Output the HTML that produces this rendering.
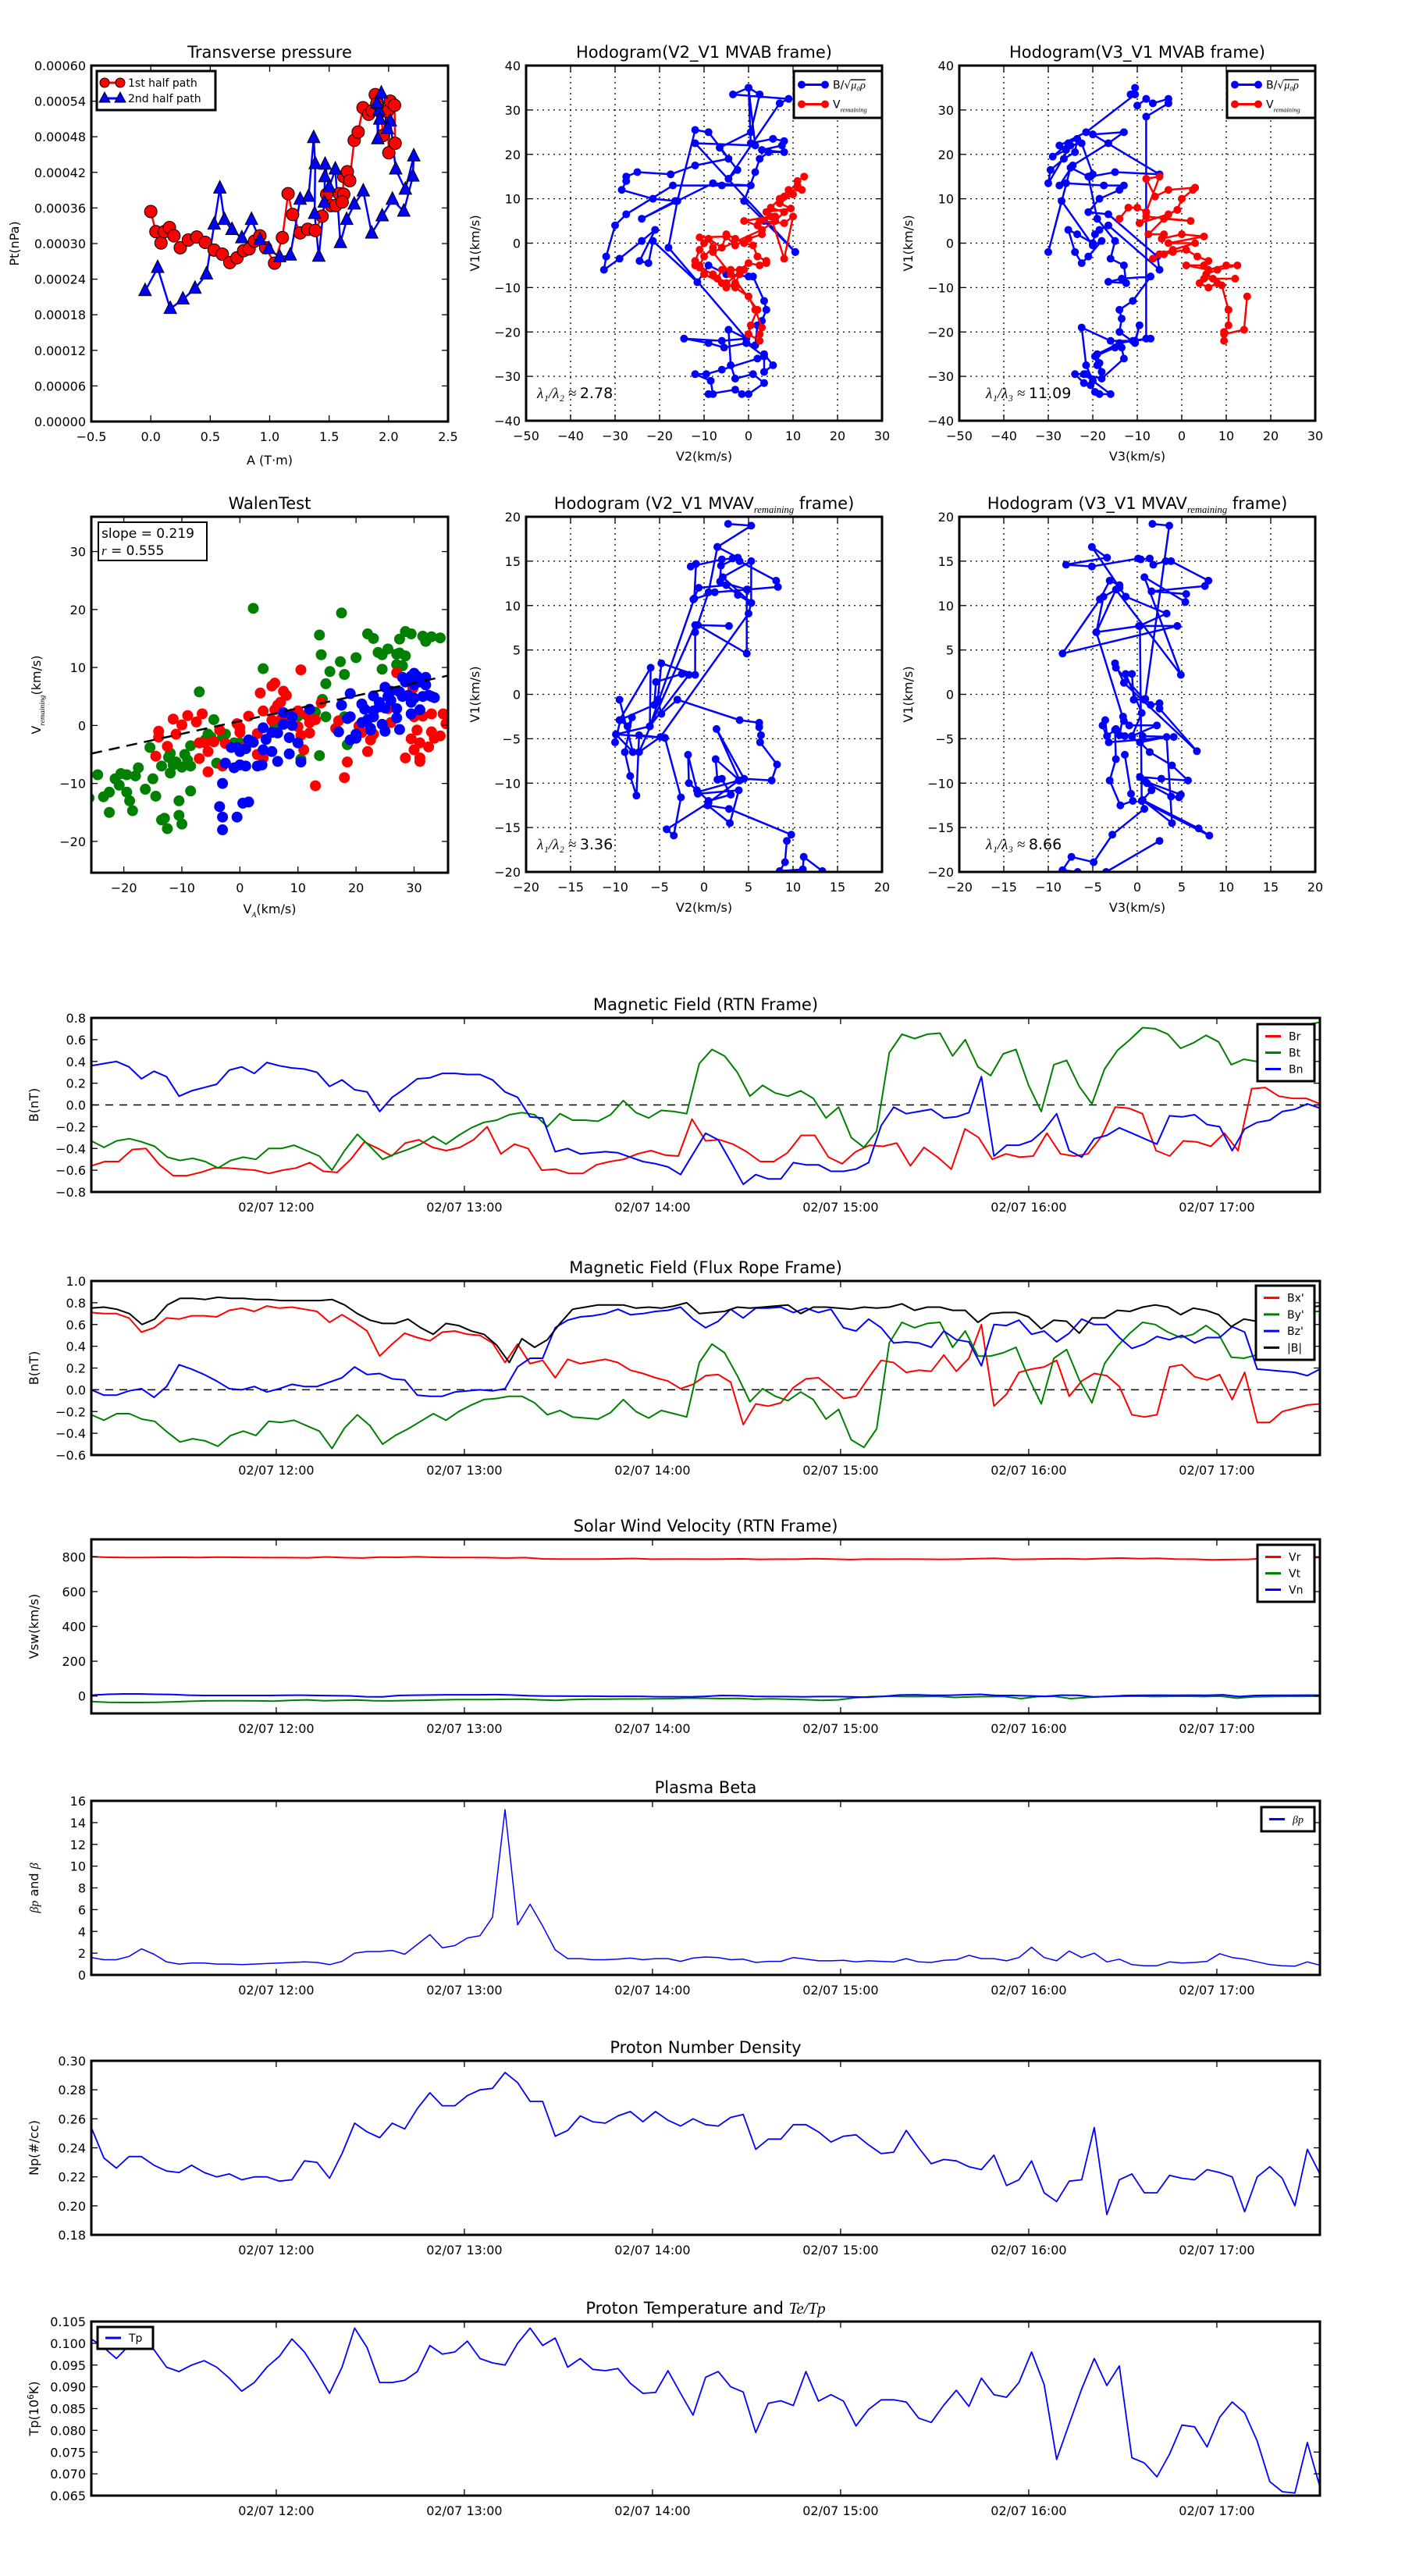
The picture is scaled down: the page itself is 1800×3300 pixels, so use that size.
<!DOCTYPE html>
<html><head><meta charset="utf-8">
<style>
html,body{margin:0;padding:0;background:#fff;}
svg{display:block;font-family:"DejaVu Sans","Liberation Sans",sans-serif;}
</style></head>
<body>
<svg id="fig" xmlns="http://www.w3.org/2000/svg" width="1800" height="3300" viewBox="0 0 1800 3300">
<rect width="1800" height="3300" fill="#fff"/>
</svg>
<script>
// ---------- data ----------
const tpFirstA=[0,0.043,0.086,0.114,0.157,0.195,0.248,0.316,0.387,0.458,0.533,0.602,0.665,0.725,0.781,0.827,0.872,0.918,0.966,1.041,1.107,1.155,1.193,1.256,1.32,1.383,1.441,1.479,1.517,1.555,1.585,1.623,1.61,1.623,1.653,1.673,1.711,1.744,1.785,1.833,1.863,1.888,1.901,1.939,1.951,1.99,2.002,2.015,2.05,2.055];
const tpFirstP=[0.000354,0.00032,0.000301,0.00032,0.000327,0.000313,0.000293,0.000306,0.000311,0.000302,0.000289,0.000282,0.000268,0.000276,0.000288,0.000291,0.000304,0.000313,0.000293,0.000267,0.00031,0.000384,0.000349,0.000318,0.000324,0.000322,0.000346,0.000383,0.000364,0.000364,0.000384,0.000383,0.00037,0.000413,0.000421,0.000406,0.000474,0.000488,0.000529,0.000518,0.000524,0.000551,0.000536,0.000523,0.000482,0.000523,0.000453,0.00054,0.000533,0.000469];
const tpSecondA=[-0.048,0.058,0.164,0.27,0.372,0.468,0.533,0.581,0.619,0.683,0.766,0.847,0.918,0.993,1.084,1.173,1.256,1.327,1.37,1.383,1.378,1.413,1.459,1.464,1.466,1.501,1.552,1.595,1.648,1.711,1.787,1.858,1.946,2.032,2.128,2.204,2.212,2.141,2.06,2.015,1.99,1.939,1.919,1.909,1.901,1.926];
const tpSecondP=[0.00022,0.000259,0.00019,0.000206,0.000224,0.000248,0.000332,0.000393,0.00034,0.000323,0.000309,0.00034,0.000306,0.000291,0.000277,0.00028,0.000374,0.000379,0.000478,0.000434,0.00035,0.000278,0.000369,0.000412,0.000433,0.000395,0.000425,0.000301,0.00034,0.000366,0.000388,0.000317,0.000346,0.000374,0.000354,0.000413,0.000447,0.000391,0.000425,0.000506,0.000493,0.000553,0.000524,0.000476,0.000536,0.000509];

const h1B=[[10.5,-2],[3.5,5],[-1,9.5],[1.5,16],[2.5,19],[4.5,20.5],[8,20.5],[3,21],[7.5,22],[8,23],[5.5,23.5],[0.5,22.5],[0,35],[2.5,33.5],[0.5,25],[-6.5,21.5],[-4.5,19],[-12,17.5],[-17.5,15.5],[-25,16],[-27.5,15],[-27.5,14],[-28.5,12],[-21.5,10],[-16.5,9.5],[-24,5.5],[-8,13.5],[0.5,13],[-6,13],[-17,13],[-27.5,6.5],[-30,4],[-32,-3],[-32.5,-6],[-29,-3.5],[-24,0.5],[-21,3],[-24.5,-4],[-22.5,-4.5],[-21.5,0.5],[-11.5,-8.8],[-9,-5],[-5,-7],[0,-7.5],[1,-7.5],[3.5,-13],[4,-15],[3,-17.5],[2,-18.5],[1.5,-23],[-0.5,-22.5],[-0.5,-21.5],[-4.5,-19.5],[-4,-27.5],[-3,-30.5],[1,-29.5],[3.5,-31.5],[0,-34],[-1.5,-34],[-3,-33],[-9,-34],[-8,-34],[-8.5,-31],[-12,-29.5],[-9.5,-29.5],[-6,-28.5],[2,-26],[3.5,-25],[5.5,-27.5],[3.5,-29],[3.5,-25.5],[-0.5,-22.5],[-5.5,-23.5],[-9,-22.5],[-14.5,-21.5],[-6,-22],[-0.5,-21.5],[-18,-1],[-16,9.5],[-12,25.5],[-9,25],[-2.5,16.5],[-4.5,14.5],[7,31.5],[9,32.5],[-3.5,33.5],[0,35],[1.5,22],[-12,22.5],[10.5,-2]];
const h1R=[[12.5,15],[11,14],[11,12.5],[8,10.5],[10,11],[7,9],[9.5,7.8],[4,7],[6,6],[2.5,5],[8,4.5],[10,6],[8,-3.5],[5,6],[-1,5],[2,4],[3,2],[0,1],[-3,-0.5],[-5,1.5],[-11,1.3],[-10,0],[-11,-1.5],[-12,-4],[-11,-5],[-10,-3],[-8,-1],[-9,1],[-6,-1],[-5,2],[-3,1],[-1,0],[1,-0.5],[2,-3],[4,-4],[4,-4.5],[2.5,-5],[0,-4.5],[-2,-6],[-4,-6],[-6,-6],[-7,-8],[-5,-10],[-3,-9],[-2,-7],[-1,-6],[-5,-9],[-8,-7],[-12,-5],[-11,-5.5],[-10,-7],[-6,-9],[-3,-10],[0,-12],[1.5,-15],[3,-19],[2.5,-20.5],[2.5,-22],[0,-20.5],[0.5,-18.5],[2,-15],[-4,-7],[-8,-2],[3,3],[6,5],[8,7],[5,8],[7,10],[9,12],[11,13],[12,12]];
const h2B=[[-10.5,35],[-11.5,33.5],[-10.5,33.5],[-21.5,25],[-27.5,22],[-26,21],[-29,19.5],[-25.5,22.5],[-23.5,23.5],[-24,20.5],[-26.5,19],[-29.5,16.5],[-30,13.5],[-25,22],[-22.5,22.5],[-20,15.5],[-20.5,15],[-15,16],[-5,15.5],[-20,24.5],[-13,25],[-16.5,22.5],[-24.5,17.5],[-27.5,13],[-26,13.5],[-17.5,13],[-13,13],[-14,12],[-18.5,10],[-21,7],[-16.5,6.5],[-5.5,-3],[-5,-6],[-16.5,4],[-18.5,3],[-19.5,2],[-20,0],[-23.5,2],[-25.5,3],[-24,-2],[-22.5,-4.5],[-21,-3],[-18,0.5],[-20,-0.5],[-27,9.5],[-30,-2],[-25,17],[-21,15],[-19,5.5],[-15,0.5],[-16,-3.5],[-13,-5],[-12.5,-9],[-16.5,-8.7],[-13.5,-8],[-7,-7.5],[-11,-13],[-14,-15],[-13.5,-17],[-14,-20],[-10.5,-22.5],[-9.5,-18.5],[-10.5,-22],[-7,-21.5],[-11,-22],[-16,-22],[-22.5,-19],[-21.5,-27.5],[-20,-31],[-21.5,-29.5],[-24,-29.5],[-22,-31.5],[-20.5,-32],[-19.5,-33.5],[-18.5,-34],[-16,-34],[-22,-29.5],[-18,-30.5],[-13,-26],[-13.5,-23.5],[-15,-23.5],[-19.5,-25.5],[-19,-27.5],[-18,-29],[-18.5,-27],[-19,-25],[-14,-22.5],[-8,-21.5],[-8,28.5],[-3,31.5],[-3,32.5],[-6.5,31.5],[-8,32.5],[-10,31]];
const h2R=[[-14,5.5],[-12,8],[-10,8],[-8,7],[-5,15],[-8,14.5],[-6,10.5],[-3,12],[3,12.5],[2.5,12],[0,10],[-1,7.5],[-3,6.5],[-9.5,4.5],[-8,6],[2,5],[-4,5.5],[-7.5,2],[-4,2],[-4.5,1],[0,2],[5,1.5],[-3,0],[3,0],[-2,-1.5],[-5,-2.5],[-6.5,-3.5],[-4,-2.5],[-2,-2],[1,-1.5],[3.5,-3],[6,-4],[5,-5],[1,-5],[6,-6],[10,-5],[12.5,-5],[8,-6],[5.5,-7],[7,-8],[12,-8],[5,-8],[4,-9],[6,-10],[8,-9],[9,-9.5],[10.5,-15],[10.5,-18.5],[9.5,-20],[9.5,-22],[9.5,-20.5],[14,-19.5],[14.7,-12]];
const h3B=[[2.7,19.2],[5.3,19],[1.5,16.6],[0.5,11.5],[-1,7],[-1,2.2],[-4.8,3.5],[-5.2,-0.6],[-4.8,-2.2],[-3,-0.6],[4,-2.9],[6.2,-3.2],[6.2,-3.7],[6.4,-4.6],[6.3,-5.4],[8.2,-7.9],[7.6,-9.7],[4.5,-9.5],[1.4,-3.9],[4,-9.7],[1.3,-7.3],[1.5,-9.6],[2,-9.5],[3,-11.3],[0.5,-12],[-0.8,-10.8],[-1.7,-10],[-1.8,-6.8],[-0.7,-11.2],[3.9,-10.8],[2.9,-14.5],[0.4,-12.5],[2.8,-12.9],[9.8,-15.8],[9.3,-16.5],[9.1,-18.9],[8.5,-19.9],[11.1,-19.7],[11.2,-18.3],[13.3,-19.9]];
const h3B2=[[-4.4,-4.9],[-2.6,-11.6],[-3.4,-15.9],[-4.2,-15.2],[0.5,-12.2],[3.9,-9.7],[-0.7,-11]];
const h3B3=[[-9.5,-0.6],[-8,-6.5],[-9.9,-4.5],[-10,-5.4],[-9.4,-2.9],[-8.6,-3.6],[-8.1,-2.6],[-8.9,-6.5],[-8.3,-9.2],[-7.6,-11.4],[-7.3,-4.6],[-4.4,-4.9],[-9.9,-4.5],[-6.1,-3.6],[-6,3],[-9.5,-2.9],[-5.6,-1.2],[-5.4,1.4],[-2.5,2.3],[-1.7,2.2],[-6.1,-3.6],[-1.1,10.8],[-0.9,14.7],[-1.5,14.4],[2,15.2],[3.2,15.3],[4,15],[8.1,12.8],[8.3,12.1],[4.9,11.8],[1.2,11.5],[-1.2,10.7],[-0.6,12],[2.5,12.3],[3.8,11.2],[5.3,10.3],[2.1,13.2],[5.3,15],[5.3,10.3],[5,9.1],[-4.9,-4.8],[-7.3,-6.5],[-1,7.8],[2.8,7.7],[-0.7,7.8],[4.8,4.6],[4.8,11.8],[1.8,12.7],[1.9,14.5],[3.8,15.4],[1.5,16.6]];
const h4B=[[1.7,19.2],[3.6,19],[0.9,-0.5],[1.5,-1.2],[2.5,-1],[2.5,-1.6],[6.7,-6.4],[-1.5,1.3],[-2.5,3.5],[-2.4,3],[0.8,-0.6],[-0.4,-0.6],[-0.6,2.3],[-1.3,2.3],[0.5,-2.1],[-0.6,-4.7],[2.2,-3.5],[-0.9,-3.5],[-1.6,-2.5],[-2,-4.6],[-1.4,-4.7],[-2.4,-3.9],[-3.4,-4.7],[-3.6,-2.9],[-3.9,-3.5],[-3.2,-5.4],[4.1,-4.8],[0.6,-4.7],[0.3,-5.4],[1.4,-6.5],[3.9,-8],[5.7,-9.7],[2.7,-9.5],[0.3,-9.3],[0.9,-9.8],[4.9,-11.3],[4.7,-11.6],[3.8,-11.5],[1.1,-10],[1.6,-10.8],[0.5,-12],[0.8,-12.9],[-2.8,-15.8],[-4.9,-18.9],[-7.4,-18.3],[-8.4,-19.8],[-6.7,-20],[-3.5,-20],[2.5,-16.5]];
const h4B2=[[-1.4,-6.8],[-0.7,-11.2],[-0.5,-12],[-1.9,-12.5],[-3.1,-9.7],[-2.4,-7.3],[-2.5,-4],[0.3,-5.4],[3.3,-4.8],[3.9,-14.5],[0.6,-11.9],[6.9,-15.1],[8.1,-15.9],[0.5,-12],[0.3,7.7],[-4.6,7],[-3.8,11],[-2,12],[-2,12.3],[-3.1,12.8],[-4.2,10.7],[-8.4,4.6],[4.5,7.7],[0.2,7.7],[3.3,9.1],[-1.3,11],[-5.1,16.6],[-3.4,15.4],[-8,14.6],[-5.1,14.4],[0.1,15.3],[0.4,15.2],[1.4,15.3],[1.8,14.6],[3.2,15],[3.8,15],[8,12.8],[7.6,12.2],[1.6,11.6],[5.5,11.3],[5.4,10.4],[0.8,13.2],[4.9,2.2],[-2.4,11.8],[-4.6,7],[-1.5,-3]];

const walenGreen=[[-26,-12.5],[-24.5,-8.5],[-23.5,-12.3],[-22.5,-15],[-22.5,-11.5],[-21.5,-9.2],[-20.8,-10.3],[-20.5,-8.3],[-19.5,-8.5],[-19.5,-11.5],[-19,-13],[-18.5,-14.7],[-18,-8.7],[-17.5,-7.3],[-16.3,-11],[-15.5,-3.8],[-15,-9.2],[-14.5,-12.2],[-13.5,-7],[-13.5,-16.3],[-13,-16],[-12.5,-17.8],[-12.3,-5.5],[-12,-4.8],[-12,-8.2],[-11.5,-6.8],[-11,-6.3],[-10.5,-13],[-10.5,-15.5],[-10,-17],[-10,-7.2],[-9.5,-5],[-9,-6],[-8.5,-3.5],[-8.5,-11.3],[-8.5,-7],[-7,5.8],[-6,-2.5],[-5.5,-1.5],[-5,-2],[-4.5,1],[-4,-6.5],[-3,-2],[-2.5,-1.5],[-1,-3],[0,-3],[2.3,20.2],[4,9.8],[6,0],[10.5,-5.8],[10,1.6],[13,2.3],[13.7,15.6],[13.7,-5.2],[14,12.2],[14.2,4.5],[14.8,7.2],[14.8,1.5],[15.5,9.3],[17.5,19.4],[17.3,11],[18,8.8],[18,1.5],[18.5,-3.3],[20,11.7],[22,15.8],[23,15],[23.8,12.6],[24.5,12.2],[24.5,9.7],[25.5,13.2],[27,12.3],[27,10.5],[27.5,14.9],[28,10.3],[28.5,16.2],[28.5,12],[29.5,15.8],[31.5,15.4],[32,14.5],[33,15.3],[34.5,15.1],[27.5,12.5]];
const walenRed=[[-14.5,-5.3],[-14,-1],[-14,-2],[-12.5,-3.6],[-11.5,1.1],[-11,-1.5],[-10,0.1],[-9,1.7],[-7.5,0.6],[-7,-3],[-7,-5.7],[-6.5,2],[-6,-3],[-5.5,-4.5],[-5.5,-8],[-4.5,-2.8],[-3.5,-0.8],[-3,-7],[-2.5,-3.1],[-0.5,0.3],[0,-0.4],[0,-1.2],[1,-3.6],[1.5,1.6],[3,-5],[3,-1.4],[3.5,5.6],[4,2.5],[4,-5.6],[5.5,6.8],[5.5,0.9],[6,7.3],[6,2.7],[6.5,3.5],[7,4],[7,1],[7.5,5.9],[8,5.2],[8,1.5],[9,2],[10,-0.2],[10,2.5],[10.5,9.6],[10.5,-1.7],[11,-4.2],[11.5,1.8],[12,-1.3],[12,0.5],[13,1],[13,-10.4],[14,3.9],[16.5,-0.5],[17,0.8],[18,-9],[18.5,-6.3],[20.5,-0.1],[21,-1.2],[22,-4.5],[22.5,-2.5],[22.5,-0.7],[23,-1.5],[25.5,2.9],[26,0.5],[27,9.1],[28.5,-5.6],[29.5,-2.3],[29.8,6.4],[30,-4.2],[30,1.5],[30.5,-0.8],[31,-3],[31,-5.6],[31,-6.2],[31.5,1.6],[32.5,-3.7],[33,2],[33,-1.1],[33.5,-2.2],[34.5,-1.8],[35,2],[35.5,0.3]];
const walenBlue=[[-3.5,-14],[-3,-10],[-3,-15.8],[-3,-18],[-2.5,-6.5],[-1.5,-3.8],[-1,-7.3],[-0.5,-3.8],[-0.5,-15.8],[0,-6.8],[0,-4.5],[0.5,-13.4],[1,-4],[1,-7],[1.5,-2.5],[1.5,-13.2],[2.3,-2.9],[3,-7],[3.8,-6.8],[4,-4.2],[4,-0.4],[4.5,-2.4],[5.5,-4.5],[5.5,-1.2],[6.5,-1.3],[6.5,-6.2],[7.5,2.2],[7.5,0.2],[8.5,-4.9],[8.5,-2.1],[9,0],[9,1.5],[10,-3],[10.5,-6.3],[12,2.8],[17,-1.1],[17.5,3.5],[18.5,1.2],[19,-2.5],[19,5.5],[19,1.5],[20,-2.2],[20,-1.5],[21,0.5],[21,3.7],[21.5,2.8],[22,1],[22.5,-0.8],[22.5,-0.5],[23,2.5],[23,5.1],[23,1.5],[24,4],[24,3.2],[24.5,0.2],[25,3],[25,6.6],[25,-1],[25.5,5],[26,4.3],[26,5.9],[27,2.9],[27,1.3],[27.5,-0.7],[27.5,5.8],[28,8.3],[28,5],[28.5,7.5],[29,8],[29,5.2],[29.5,4],[29.5,2],[30,9],[30,7],[30,4.7],[31,8],[31,2.7],[31.5,5],[32,8.3],[32,7],[32.5,5.2],[33,5],[33.5,4.8],[29.5,8.5],[30.5,8.5],[31,7.5]];
const walenSlope=0.219, walenIntercept=0.75;

const tStart=11.017, tEnd=17.548; // hours
const hourTicks=[12,13,14,15,16,17];
const hourLabels=["02/07 12:00","02/07 13:00","02/07 14:00","02/07 15:00","02/07 16:00","02/07 17:00"];

const Br=[-0.56,-0.52,-0.52,-0.41,-0.40,-0.55,-0.65,-0.65,-0.62,-0.58,-0.58,-0.59,-0.60,-0.63,-0.60,-0.58,-0.53,-0.61,-0.62,-0.50,-0.34,-0.40,-0.47,-0.35,-0.32,-0.39,-0.42,-0.39,-0.32,-0.20,-0.45,-0.36,-0.40,-0.60,-0.59,-0.63,-0.63,-0.55,-0.52,-0.50,-0.45,-0.42,-0.46,-0.47,-0.13,-0.33,-0.32,-0.36,-0.43,-0.52,-0.52,-0.44,-0.28,-0.28,-0.48,-0.54,-0.43,-0.37,-0.38,-0.35,-0.56,-0.39,-0.48,-0.59,-0.22,-0.30,-0.50,-0.45,-0.48,-0.47,-0.26,-0.45,-0.47,-0.45,-0.29,-0.02,-0.03,-0.08,-0.42,-0.47,-0.33,-0.34,-0.38,-0.26,-0.42,0.15,0.16,0.08,0.06,0.06,0.01];
const Bt=[-0.33,-0.39,-0.33,-0.31,-0.34,-0.38,-0.48,-0.51,-0.49,-0.52,-0.58,-0.51,-0.48,-0.50,-0.40,-0.40,-0.37,-0.42,-0.47,-0.60,-0.42,-0.27,-0.38,-0.50,-0.45,-0.41,-0.36,-0.29,-0.36,-0.28,-0.21,-0.16,-0.14,-0.09,-0.07,-0.09,-0.20,-0.08,-0.14,-0.14,-0.15,-0.09,0.04,-0.07,-0.12,-0.05,-0.06,-0.08,0.38,0.51,0.45,0.30,0.08,0.18,0.11,0.08,0.13,0.06,-0.12,-0.02,-0.30,-0.39,-0.24,0.48,0.65,0.61,0.65,0.66,0.45,0.60,0.35,0.27,0.47,0.51,0.18,-0.06,0.37,0.41,0.17,0.01,0.33,0.50,0.60,0.71,0.70,0.65,0.52,0.57,0.64,0.58,0.37,0.42,0.40,0.68,0.70,0.72,0.74,0.76];
const Bn=[0.36,0.38,0.40,0.35,0.24,0.31,0.26,0.08,0.13,0.16,0.19,0.32,0.35,0.29,0.39,0.36,0.34,0.33,0.30,0.17,0.23,0.14,0.12,-0.06,0.07,0.15,0.24,0.25,0.29,0.29,0.28,0.28,0.23,0.12,0.07,-0.11,-0.12,-0.43,-0.40,-0.45,-0.44,-0.43,-0.44,-0.48,-0.52,-0.54,-0.57,-0.64,-0.45,-0.26,-0.32,-0.52,-0.73,-0.64,-0.68,-0.68,-0.53,-0.55,-0.55,-0.61,-0.61,-0.59,-0.53,-0.19,-0.02,-0.08,-0.06,-0.04,-0.12,-0.11,-0.07,0.26,-0.47,-0.37,-0.37,-0.33,-0.23,-0.08,-0.42,-0.48,-0.31,-0.28,-0.21,-0.26,-0.31,-0.36,-0.10,-0.11,-0.09,-0.18,-0.20,-0.42,-0.22,-0.16,-0.14,-0.06,-0.04,0.01,-0.03];
const Bx=[0.71,0.70,0.70,0.66,0.53,0.57,0.66,0.65,0.68,0.68,0.67,0.73,0.75,0.72,0.77,0.75,0.76,0.74,0.72,0.62,0.69,0.62,0.54,0.31,0.42,0.52,0.48,0.45,0.53,0.54,0.51,0.50,0.43,0.25,0.42,0.24,0.27,0.11,0.28,0.24,0.26,0.28,0.25,0.18,0.15,0.11,0.08,0.01,0.05,0.13,0.14,0.07,-0.32,-0.13,-0.15,-0.12,0.02,0.10,0.11,0.02,-0.08,-0.06,0.11,0.27,0.25,0.16,0.18,0.17,0.32,0.17,0.29,0.60,-0.15,-0.04,0.16,0.19,0.21,0.27,-0.06,0.08,0.15,0.13,0.03,-0.23,-0.25,-0.23,0.21,0.23,0.12,0.09,0.14,-0.09,0.16,-0.30,-0.30,-0.20,-0.17,-0.14,-0.13];
const By=[-0.23,-0.28,-0.22,-0.22,-0.27,-0.29,-0.39,-0.48,-0.45,-0.47,-0.52,-0.42,-0.38,-0.42,-0.29,-0.30,-0.28,-0.33,-0.38,-0.54,-0.35,-0.23,-0.33,-0.50,-0.42,-0.36,-0.29,-0.22,-0.28,-0.20,-0.14,-0.09,-0.08,-0.06,-0.06,-0.12,-0.23,-0.19,-0.25,-0.26,-0.27,-0.21,-0.09,-0.20,-0.26,-0.19,-0.22,-0.25,0.25,0.42,0.34,0.13,-0.11,0.01,-0.06,-0.10,-0.02,-0.09,-0.27,-0.18,-0.46,-0.53,-0.36,0.43,0.62,0.57,0.61,0.62,0.39,0.54,0.31,0.31,0.34,0.39,0.11,-0.13,0.29,0.37,0.09,-0.12,0.24,0.40,0.52,0.62,0.60,0.53,0.48,0.51,0.59,0.51,0.30,0.29,0.32,0.60,0.66,0.70,0.72,0.72];
const Bz=[0.00,-0.05,-0.05,-0.01,0.01,-0.07,0.03,0.23,0.19,0.14,0.08,0.01,0.00,0.03,-0.02,0.01,0.05,0.03,0.03,0.07,0.11,0.21,0.14,0.15,0.10,0.09,-0.05,-0.06,-0.06,-0.02,-0.01,0.00,-0.01,0.01,0.21,0.29,0.29,0.57,0.64,0.67,0.68,0.70,0.74,0.69,0.70,0.72,0.73,0.76,0.65,0.57,0.63,0.74,0.66,0.75,0.75,0.76,0.71,0.75,0.71,0.74,0.57,0.54,0.65,0.57,0.43,0.44,0.43,0.39,0.54,0.46,0.44,0.22,0.60,0.59,0.64,0.51,0.54,0.44,0.52,0.65,0.60,0.60,0.48,0.38,0.42,0.49,0.46,0.50,0.43,0.48,0.48,0.58,0.53,0.19,0.18,0.17,0.16,0.13,0.19];
const Bmag=[0.75,0.76,0.74,0.70,0.60,0.65,0.78,0.84,0.84,0.83,0.85,0.84,0.84,0.83,0.83,0.82,0.82,0.82,0.82,0.83,0.78,0.70,0.64,0.61,0.61,0.65,0.57,0.51,0.61,0.59,0.54,0.51,0.41,0.25,0.47,0.39,0.46,0.61,0.74,0.76,0.78,0.78,0.78,0.75,0.76,0.75,0.77,0.80,0.70,0.71,0.72,0.76,0.75,0.76,0.77,0.78,0.70,0.76,0.76,0.75,0.74,0.76,0.75,0.76,0.79,0.73,0.76,0.76,0.73,0.73,0.62,0.70,0.71,0.71,0.67,0.56,0.64,0.63,0.52,0.66,0.66,0.73,0.72,0.76,0.78,0.76,0.69,0.75,0.73,0.69,0.58,0.65,0.63,0.70,0.72,0.74,0.76,0.77];
const Vr=[800,797,796,796,797,797,796,798,797,796,795,795,794,799,795,793,798,797,800,797,796,796,795,793,795,788,787,787,787,788,790,786,787,787,786,787,788,785,786,786,789,787,784,787,786,787,786,785,786,789,791,785,786,788,789,786,790,793,789,791,787,786,782,784,785,791,784,795,795];
const Vt=[-32,-36,-37,-37,-36,-33,-30,-28,-27,-27,-28,-29,-25,-22,-27,-25,-23,-27,-28,-26,-24,-22,-20,-20,-20,-19,-18,-22,-25,-20,-18,-18,-17,-17,-16,-15,-12,-13,-15,-14,-18,-16,-19,-21,-25,-22,-10,-3,-2,-3,-3,-2,-8,-5,-3,-3,-15,-3,-2,-15,-8,-3,-2,-1,-3,-2,-1,-3,-1,-12,-5,-3,-2,-2,-1];
const Vn=[5,10,12,12,10,9,5,3,3,3,3,3,4,5,3,2,1,-4,-5,3,5,6,7,7,7,8,6,2,0,0,-1,-1,-2,-2,-2,-4,-4,-5,-2,3,2,-2,-3,-3,-5,-3,-3,-5,-7,-2,6,7,4,4,7,10,3,3,1,-2,5,4,-5,-2,3,4,5,4,5,4,7,-3,3,4,4,5,5];
const beta=[1.6,1.4,1.4,1.7,2.4,1.9,1.2,1.0,1.1,1.1,1.0,1.0,0.95,1.0,1.05,1.1,1.15,1.2,1.15,0.95,1.25,2.0,2.15,2.15,2.25,1.9,2.8,3.7,2.5,2.7,3.4,3.6,5.3,15.2,4.6,6.5,4.5,2.3,1.5,1.5,1.4,1.4,1.45,1.55,1.4,1.5,1.5,1.25,1.55,1.65,1.6,1.4,1.45,1.15,1.25,1.25,1.6,1.45,1.3,1.3,1.35,1.2,1.3,1.25,1.2,1.5,1.2,1.15,1.35,1.4,1.8,1.5,1.5,1.3,1.6,2.55,1.6,1.3,2.2,1.6,2.0,1.2,1.45,0.95,0.85,0.85,1.2,1.1,1.15,1.25,1.95,1.6,1.45,1.2,0.95,0.85,0.8,1.2,0.9];
const Np=[0.254,0.233,0.226,0.234,0.234,0.228,0.224,0.223,0.228,0.223,0.220,0.222,0.218,0.220,0.220,0.217,0.218,0.231,0.230,0.219,0.236,0.257,0.251,0.247,0.257,0.253,0.267,0.278,0.269,0.269,0.276,0.280,0.281,0.292,0.285,0.272,0.272,0.248,0.252,0.262,0.258,0.257,0.262,0.265,0.258,0.265,0.259,0.255,0.260,0.256,0.255,0.261,0.263,0.239,0.246,0.246,0.256,0.256,0.251,0.244,0.248,0.249,0.242,0.236,0.237,0.252,0.240,0.229,0.232,0.231,0.227,0.225,0.235,0.214,0.218,0.231,0.209,0.203,0.217,0.218,0.254,0.194,0.218,0.222,0.209,0.209,0.221,0.219,0.218,0.225,0.223,0.220,0.196,0.220,0.227,0.219,0.200,0.239,0.222];
const Tp=[0.101,0.099,0.0965,0.0995,0.1,0.0985,0.0945,0.0935,0.095,0.096,0.0945,0.092,0.089,0.091,0.0945,0.097,0.101,0.098,0.0935,0.0885,0.0945,0.1035,0.099,0.091,0.091,0.0915,0.0935,0.0995,0.0975,0.098,0.1005,0.0965,0.0955,0.095,0.1,0.1035,0.0995,0.1012,0.0945,0.0965,0.094,0.0937,0.0942,0.0908,0.0885,0.0887,0.0937,0.0885,0.0835,0.0922,0.0935,0.09,0.0888,0.0795,0.0862,0.0868,0.0857,0.0935,0.0867,0.0882,0.0867,0.081,0.0848,0.087,0.087,0.0865,0.0828,0.0818,0.0858,0.0892,0.0855,0.092,0.0882,0.0876,0.091,0.098,0.0905,0.0733,0.0815,0.0895,0.0965,0.0903,0.0948,0.0737,0.0725,0.0693,0.0745,0.0812,0.0808,0.0762,0.083,0.0865,0.084,0.0775,0.0682,0.0659,0.0656,0.0772,0.067];

// ---------- helpers ----------
const NS="http://www.w3.org/2000/svg";
const fig=document.getElementById('fig');
function mk(tag,attrs,parent){const e=document.createElementNS(NS,tag);for(const k in attrs)e.setAttribute(k,attrs[k]);(parent||fig).appendChild(e);return e;}
function fmt(v,d){const s=Math.abs(v).toFixed(d);return (v<0?"\u2212":"")+s;}
function makeAxes(name,x0,y0,w,h,xmin,xmax,ymin,ymax){
  const g=mk('g',{});
  
  
  const sx=v=>x0+(v-xmin)/(xmax-xmin)*w;
  const sy=v=>y0+h-(v-ymin)/(ymax-ymin)*h;
  const cp='clip-'+name;
  const c=mk('clipPath',{id:cp},g);mk('rect',{x:x0,y:y0,width:w,height:h},c);
  const plot=mk('g',{'clip-path':'url(#'+cp+')'},g);
  return {g,plot,sx,sy,x0,y0,w,h};
}
function frame(ax){
  const r=mk('rect',{x:ax.x0,y:ax.y0,width:ax.w,height:ax.h,fill:'none',stroke:'#000','stroke-width':3},ax.g);
  
  
}
function xTicks(ax,vals,labels,grid,name){
  vals.forEach((v,i)=>{
    const x=ax.sx(v);
    if(grid) mk('line',{x1:x,x2:x,y1:ax.y0,y2:ax.y0+ax.h,stroke:'#000','stroke-width':1.3,'stroke-dasharray':'2,5'},ax.plot);
    mk('line',{x1:x,x2:x,y1:ax.y0+ax.h,y2:ax.y0+ax.h-8,stroke:'#000','stroke-width':1.3},ax.g);
    mk('line',{x1:x,x2:x,y1:ax.y0,y2:ax.y0+8,stroke:'#000','stroke-width':1.3},ax.g);
    const t=mk('text',{x:x,y:ax.y0+ax.h+25,'font-size':16,'text-anchor':'middle'},ax.g);
    t.textContent=labels[i];
    
    
  });
}
function yTicks(ax,vals,labels,grid,name){
  vals.forEach((v,i)=>{
    const y=ax.sy(v);
    if(grid) mk('line',{x1:ax.x0,x2:ax.x0+ax.w,y1:y,y2:y,stroke:'#000','stroke-width':1.3,'stroke-dasharray':'2,5'},ax.plot);
    mk('line',{x1:ax.x0,x2:ax.x0+8,y1:y,y2:y,stroke:'#000','stroke-width':1.3},ax.g);
    mk('line',{x1:ax.x0+ax.w,x2:ax.x0+ax.w-8,y1:y,y2:y,stroke:'#000','stroke-width':1.3},ax.g);
    const t=mk('text',{x:ax.x0-7,y:y+6,'font-size':16,'text-anchor':'end'},ax.g);
    t.textContent=labels[i];
    
    
  });
}
function title(ax,txt,name,dy){
  const t=mk('text',{x:ax.x0+ax.w/2,y:ax.y0-(dy||10),'font-size':21,'text-anchor':'middle'},ax.g);
  if(typeof txt==='string') t.textContent=txt; else txt(t);
  
  
  return t;
}
function ylabel(ax,txt,x,name,size){
  const cy=ax.y0+ax.h/2;
  const t=mk('text',{x:x,y:cy,'font-size':size||16,'text-anchor':'middle',transform:'rotate(-90 '+x+' '+cy+')'},ax.g);
  if(typeof txt==='string') t.textContent=txt; else txt(t);
  
  
}
function xlabel(ax,txt,y,name){
  const t=mk('text',{x:ax.x0+ax.w/2,y:y,'font-size':16,'text-anchor':'middle'},ax.g);
  if(typeof txt==='string') t.textContent=txt; else txt(t);
  
  
}
function sub(t,main,s,rest){
  t.appendChild(document.createTextNode(main));
  const ts=mk('tspan',{'font-size':'60%','font-style':'italic','font-family':'"Liberation Serif",serif',dy:5},t);ts.textContent=s;
  if(rest){const r=mk('tspan',{dy:-5},t);r.textContent=rest;}
}
function polyline(ax,xs,ys,color,name,lw){
  const pts=xs.map((x,i)=>ax.sx(x).toFixed(1)+','+ax.sy(ys[i]).toFixed(1)).join(' ');
  const p=mk('polyline',{points:pts,fill:'none',stroke:color,'stroke-width':lw||2,'stroke-linejoin':'round'},ax.plot);
  
  
  return p;
}
function legendBox(ax,x,y,w,h,entries,name,marker){
  const g=mk('g',{},ax.g);
  
  
  mk('rect',{x:x,y:y,width:w,height:h,fill:'#fff',stroke:'#000','stroke-width':3},g);
  const step=(h-10)/entries.length;
  entries.forEach((e,i)=>{
    const cy=y+5+step*(i+0.5);
    const eg=mk('g',{},g);
    
    
    const lx=x+10, llen=marker?30:20;
    mk('line',{x1:lx,x2:lx+llen,y1:cy,y2:cy,stroke:e.color,'stroke-width':3},eg);
    if(marker==='circle'){mk('circle',{cx:lx,cy:cy,r:5,fill:e.color},eg);mk('circle',{cx:lx+llen,cy:cy,r:5,fill:e.color},eg);}
    const t=mk('text',{x:lx+llen+10,y:cy+5,'font-size':e.size||14},eg);
    if(typeof e.label==='string') t.textContent=e.label; else e.label(t);
  });
}

// ---------- Transverse pressure ----------
(function(){
  const ax=makeAxes('transverse-pressure-chart',117,84,457,456,-0.5,2.5,0,0.0006);
  const xt=[-0.5,0,0.5,1,1.5,2,2.5];
  xTicks(ax,xt,xt.map(v=>fmt(v,1)),false,'tp');
  const yt=[0,0.00006,0.00012,0.00018,0.00024,0.0003,0.00036,0.00042,0.00048,0.00054,0.0006];
  yTicks(ax,yt,yt.map(v=>v.toFixed(5)),false,'tp');
  polyline(ax,tpFirstA,tpFirstP,'#f00','first-half-path-line',2.5);
  polyline(ax,tpSecondA,tpSecondP,'#00f','second-half-path-line',2.5);
  tpFirstA.forEach((a,i)=>{
    const c=mk('circle',{cx:ax.sx(a),cy:ax.sy(tpFirstP[i]),r:8,fill:'#f00',stroke:'#000','stroke-width':1},ax.plot);
    
    
  });
  tpSecondA.forEach((a,i)=>{
    const x=ax.sx(a),y=ax.sy(tpSecondP[i]);
    const p=mk('polygon',{points:x+','+(y-10)+' '+(x-8)+','+(y+6)+' '+(x+8)+','+(y+6),fill:'#00f',stroke:'#000','stroke-width':1},ax.plot);
    
    
  });
  frame(ax);
  title(ax,'Transverse pressure','tp',10);
  ylabel(ax,'Pt(nPa)',24,'tp');
  xlabel(ax,'A (T\u00b7m)',595,'tp');
  legendBox(ax,124,91,152,50,[{color:'#f00',label:'1st half path'},{color:'#00f',label:'2nd half path'}],'tp-legend',null);
  [[0,'#f00','c'],[1,'#00f','t']].forEach(([i,col,k])=>{
    const cy=91+5+20*(i+0.5);
    [134,154].forEach(px=>{
      if(k==='c') mk('circle',{cx:px,cy:cy,r:6,fill:col,stroke:'#000'},ax.g);
      else mk('polygon',{points:px+','+(cy-8)+' '+(px-7)+','+(cy+5)+' '+(px+7)+','+(cy+5),fill:col,stroke:'#000'},ax.g);
    });
  });
})();

// ---------- Hodograms ----------
function hodogram(name,x0,y0,lim,ticks,chains,titleFn,xl,ratioTxt,legend,xlY,rdx){
  const ax=makeAxes(name,x0,y0,456,455,lim[0],lim[1],lim[2],lim[3]);
  xTicks(ax,ticks[0],ticks[0].map(v=>fmt(v,0)),true,name);
  yTicks(ax,ticks[1],ticks[1].map(v=>fmt(v,0)),true,name);
  chains.forEach(ch=>{
    polyline(ax,ch.pts.map(p=>p[0]),ch.pts.map(p=>p[1]),ch.color,ch.name+'-line',2.5);
    ch.pts.forEach(p=>{
      const c=mk('circle',{cx:ax.sx(p[0]),cy:ax.sy(p[1]),r:5,fill:ch.color},ax.plot);
      
      
    });
  });
  frame(ax);
  title(ax,titleFn,name,10);
  ylabel(ax,'V1(km/s)',x0-60,name);
  xlabel(ax,xl,xlY,name);
  const r=mk('text',{x:x0+(rdx||14),y:y0+426,'font-size':19},ax.g);
  ratioTxt(r);
  
  
  if(legend) legendBox(ax,x0+ax.w-113,y0+7,113,60,[
    {color:'#00f',label:t=>{t.appendChild(document.createTextNode('B/\u221a'));const s=mk('tspan',{'font-style':'italic','font-family':'"Liberation Serif",serif','text-decoration':'overline'},t);s.textContent='\u03bc\u2080\u03c1';}},
    {color:'#f00',label:t=>sub(t,'V','remaining')}
  ],name+'-legend','circle');
  return ax;
}
function ratio(a,b,v){return t=>{const s=mk('tspan',{'font-style':'italic','font-family':'"Liberation Serif",serif'},t);s.textContent='\u03bb'+a+'/\u03bb'+b+' \u2248 ';const n=mk('tspan',{},t);n.textContent=v;};}
const tk80=[-50,-40,-30,-20,-10,0,10,20,30], tk80y=[-40,-30,-20,-10,0,10,20,30,40];
const tk20=[-20,-15,-10,-5,0,5,10,15,20];
hodogram('hodogram-v2-v1-mvab',674,84,[-50,30,-40,40],[tk80,tk80y],[{pts:h1B,color:'#00f',name:'b-alfven'},{pts:h1R,color:'#f00',name:'v-remaining'}],'Hodogram(V2_V1 MVAB frame)','V2(km/s)',ratio('\u2081','\u2082','2.78'),true,590,14);
hodogram('hodogram-v3-v1-mvab',1229,84,[-50,30,-40,40],[tk80,tk80y],[{pts:h2B,color:'#00f',name:'b-alfven'},{pts:h2R,color:'#f00',name:'v-remaining'}],'Hodogram(V3_V1 MVAB frame)','V3(km/s)',ratio('\u2081','\u2083','11.09'),true,590,34);
hodogram('hodogram-v2-v1-mvav',674,662,[-20,20,-20,20],[tk20,tk20],[{pts:h3B,color:'#00f',name:'b-alfven'},{pts:h3B2,color:'#00f',name:'b-alfven'},{pts:h3B3,color:'#00f',name:'b-alfven'}],t=>sub(t,'Hodogram (V2_V1 MVAV','remaining',' frame)'),'V2(km/s)',ratio('\u2081','\u2082','3.36'),false,1168,14);
hodogram('hodogram-v3-v1-mvav',1229,662,[-20,20,-20,20],[tk20,tk20],[{pts:h4B,color:'#00f',name:'b-alfven'},{pts:h4B2,color:'#00f',name:'b-alfven'}],t=>sub(t,'Hodogram (V3_V1 MVAV','remaining',' frame)'),'V3(km/s)',ratio('\u2081','\u2083','8.66'),false,1168,34);

// ---------- Walen test ----------
(function(){
  const ax=makeAxes('walen-test-chart',117,662,457,456,-25.6,35.85,-25.4,36);
  const xt=[-20,-10,0,10,20,30];
  xTicks(ax,xt,xt.map(v=>fmt(v,0)),false,'walen');
  const yt=[-20,-10,0,10,20,30];
  yTicks(ax,yt,yt.map(v=>fmt(v,0)),false,'walen');
  [[walenGreen,'#008000','walen-point-green'],[walenRed,'#f00','walen-point-red'],[walenBlue,'#00f','walen-point-blue']].forEach(([arr,col,nm])=>{
    arr.forEach(p=>{
      const c=mk('circle',{cx:ax.sx(p[0]),cy:ax.sy(p[1]),r:7,fill:col},ax.plot);
      
      
    });
  });
  const fx=[-25.6,35.85];
  const fl=polyline(ax,fx,fx.map(x=>walenSlope*x+walenIntercept),'#000','walen-fit-line',2.5);
  fl.setAttribute('stroke-dasharray','14,9');
  frame(ax);
  title(ax,'WalenTest','walen',10);
  ylabel(ax,t=>sub(t,'V','remaining','(km/s)'),52,'walen');
  xlabel(ax,t=>sub(t,'V','A','(km/s)'),1170,'walen');
  const g=mk('g',{},ax.g);
  
  
  mk('rect',{x:126,y:669,width:139,height:49,fill:'#fff',stroke:'#000','stroke-width':2},g);
  const t1=mk('text',{x:130,y:689,'font-size':17},g);t1.textContent='slope = '+walenSlope.toFixed(3);
  const t2=mk('text',{x:130,y:711,'font-size':17},g);
  const ri=mk('tspan',{'font-style':'italic','font-family':'"Liberation Serif",serif'},t2);ri.textContent='r';
  const rv=mk('tspan',{},t2);rv.textContent=' = 0.555';
})();

// ---------- time series ----------
function timeSeries(name,top,ymin,ymax,yt,ydec,ttl,ylab,series,legend,zero,lw){
  const ax=makeAxes(name,117,top,1574,223,tStart,tEnd,ymin,ymax);
  xTicks(ax,hourTicks,hourLabels,false,name);
  yTicks(ax,yt,yt.map(v=>fmt(v,ydec)),false,name);
  if(zero){const z=mk('line',{x1:ax.x0,x2:ax.x0+ax.w,y1:ax.sy(0),y2:ax.sy(0),stroke:'#000','stroke-width':1.5,'stroke-dasharray':'10,8'},ax.plot);
    }
  series.forEach(s=>{
    const n=s.vals.length;
    const ts=s.vals.map((v,i)=>tStart+(tEnd-tStart)*i/(n-1));
    polyline(ax,ts,s.vals,s.color,s.name,lw||2);
  });
  frame(ax);
  title(ax,ttl,name,10);
  ylabel(ax,ylab,49,name);
  if(legend) legendBox(ax,legend[0],legend[1],legend[2],legend[3],series.map(s=>({color:s.color,label:s.label})),name+'-legend',null);
  return ax;
}
timeSeries('magnetic-field-rtn',1304,-0.8,0.8,[-0.8,-0.6,-0.4,-0.2,0,0.2,0.4,0.6,0.8],1,'Magnetic Field (RTN Frame)','B(nT)',
  [{vals:Br,color:'#f00',label:'Br',name:'br-line'},{vals:Bt,color:'#008000',label:'Bt',name:'bt-line'},{vals:Bn,color:'#00f',label:'Bn',name:'bn-line'}],[1611,1312,73,73],true);
timeSeries('magnetic-field-flux-rope',1641,-0.6,1.0,[-0.6,-0.4,-0.2,0,0.2,0.4,0.6,0.8,1.0],1,'Magnetic Field (Flux Rope Frame)','B(nT)',
  [{vals:Bx,color:'#f00',label:"Bx'",name:'bx-line'},{vals:By,color:'#008000',label:"By'",name:'by-line'},{vals:Bz,color:'#00f',label:"Bz'",name:'bz-line'},{vals:Bmag,color:'#000',label:'|B|',name:'bmag-line'}],[1609,1647,75,95],true);
timeSeries('solar-wind-velocity',1972,-100,900,[0,200,400,600,800],0,'Solar Wind Velocity (RTN Frame)','Vsw(km/s)',
  [{vals:Vr,color:'#f00',label:'Vr',name:'vr-line'},{vals:Vt,color:'#008000',label:'Vt',name:'vt-line'},{vals:Vn,color:'#00f',label:'Vn',name:'vn-line'}],[1611,1979,73,73],false);
timeSeries('plasma-beta',2307,0,16,[0,2,4,6,8,10,12,14,16],0,'Plasma Beta',t=>{const a=mk('tspan',{'font-style':'italic','font-family':'"Liberation Serif",serif'},t);a.textContent='\u03b2p';const b=mk('tspan',{},t);b.textContent=' and ';const c=mk('tspan',{'font-style':'italic','font-family':'"Liberation Serif",serif'},t);c.textContent='\u03b2';},
  [{vals:beta,color:'#00f',label:t=>{const s=mk('tspan',{'font-style':'italic','font-family':'"Liberation Serif",serif'},t);s.textContent='\u03b2p';},name:'beta-line'}],[1616,2315,68,31],false,1.5);
timeSeries('proton-density',2640,0.18,0.30,[0.18,0.20,0.22,0.24,0.26,0.28,0.30],2,'Proton Number Density','Np(#/cc)',
  [{vals:Np,color:'#00f',label:'Np',name:'np-line'}],null,false,1.8);
timeSeries('proton-temperature',2974,0.065,0.105,[0.065,0.07,0.075,0.08,0.085,0.09,0.095,0.1,0.105],3,t=>{t.appendChild(document.createTextNode('Proton Temperature and '));const s=mk('tspan',{'font-style':'italic','font-family':'"Liberation Serif",serif'},t);s.textContent='Te/Tp';},
  t=>{t.appendChild(document.createTextNode('Tp(10'));const s=mk('tspan',{'font-size':'65%',dy:-6},t);s.textContent='6';const r=mk('tspan',{dy:6},t);r.textContent='K)';},
  [{vals:Tp,color:'#00f',label:'Tp',name:'tp-line'}],[125,2981,71,28],false,1.8);
</script>
</body></html>
